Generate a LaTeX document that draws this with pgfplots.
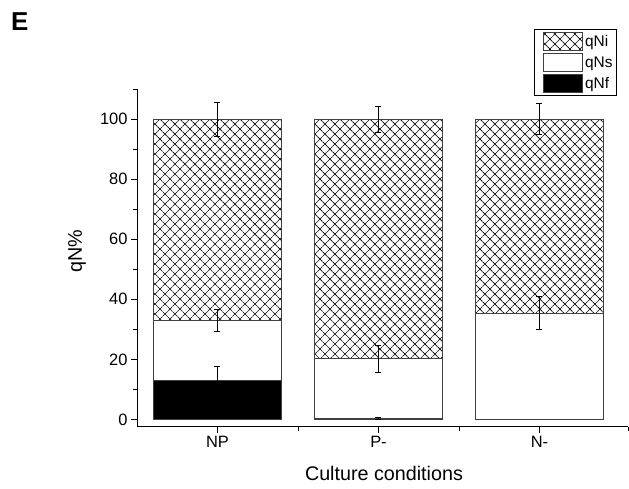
\documentclass[border=0pt]{standalone}
\usepackage{fontspec}
\setmainfont{Liberation Sans}
\usepackage{pgfplots}
\pgfplotsset{compat=1.18}
\usetikzlibrary{patterns.meta}
\newcommand{\tickfont}{\fontsize{16.5}{19}\selectfont}
\newcommand{\legfont}{\fontsize{15.5}{17}\selectfont}

\begin{document}
\begin{tikzpicture}
\path[use as bounding box] (0,0) rectangle (629bp,489bp);
\node[anchor=base west, inner sep=0, font=\fontsize{26}{30}\selectfont\bfseries] at (11bp,458bp) {E};
\begin{axis}[
  at={(137bp,62bp)}, anchor=south west,
  scale only axis, width=491bp, height=338bp,
  ybar stacked, bar width=0.8,
  xmin=-0.5, xmax=2.55, ymin=-2.5, ymax=110,
  axis x line=bottom, axis y line=left,
  axis line style={-, line width=1bp, black},
  xtick={0,1,2}, xticklabels={\tickfont NP,\tickfont P-,\tickfont N-},
  minor xtick={0.5,1.5,2.55},
  ytick={0,20,...,100}, minor ytick={10,30,...,110},
  yticklabel={\tickfont\pgfmathprintnumber{\tick}},
  tick align=outside, major tick length=6bp, minor tick length=4bp,
  tick style={black, line width=0.8bp},
  /pgf/number format/assume math mode=true,
  xlabel={Culture conditions}, ylabel={qN\%},
  xlabel style={font=\fontsize{19.8}{23}\selectfont, at={(axis description cs:0.503,-0.137)}, anchor=center},
  ylabel style={font=\fontsize{19.8}{23}\selectfont, at={(axis description cs:-0.122,0.52)}, anchor=center},
  legend style={at={(0.9776,1.1775)}, anchor=north east, draw=black, line width=0.8bp,
    inner xsep=2bp, inner ysep=2.5bp, row sep=2.5bp},
  legend cell align=left,
  reverse legend,
  legend image code/.code={\path (0bp,0bp); \draw[#1] (7bp,-9bp) rectangle (46bp,9bp);},
]
\addplot[fill=black, draw=black!75, line width=0.8bp] coordinates {(0,13) (1,0.3) (2,0)};
\addplot[fill=white, draw=black!75, line width=0.8bp] coordinates {(0,20) (1,19.9) (2,35.4)};
\addplot[pattern={Hatch[angle=45,distance=7.07bp,line width=0.6bp]}, pattern color=black, draw=black!75, line width=0.8bp] coordinates {(0,67) (1,79.8) (2,64.6)};
\legend{\legfont qNf,\legfont qNs,\legfont qNi}
\end{axis}
\begin{axis}[
  at={(137bp,62bp)}, anchor=south west,
  scale only axis, width=491bp, height=338bp,
  xmin=-0.5, xmax=2.55, ymin=-2.5, ymax=110,
  hide axis, clip=false,
]
\addplot[draw=none, mark=none, error bars/.cd, y dir=both, y explicit,
  error bar style={draw=black, line width=0.7bp},
  error mark options={rotate=90, draw=black, mark size=3bp, line width=0.7bp}]
  coordinates {(0,13) +- (0,4.7) (1,0.3) +- (0,0.3)};
\addplot[draw=none, mark=none, error bars/.cd, y dir=both, y explicit,
  error bar style={draw=black, line width=0.7bp},
  error mark options={rotate=90, draw=black, mark size=3bp, line width=0.7bp}]
  coordinates {(0,33) +- (0,3.8) (1,20.2) +- (0,4.5) (2,35.4) +- (0,5.5)};
\addplot[draw=none, mark=none, error bars/.cd, y dir=both, y explicit,
  error bar style={draw=black, line width=0.7bp},
  error mark options={rotate=90, draw=black, mark size=3bp, line width=0.7bp}]
  coordinates {(0,100) +- (0,5.6) (1,100) +- (0,4.3) (2,100) +- (0,5.2)};
\end{axis}
\end{tikzpicture}
\end{document}
